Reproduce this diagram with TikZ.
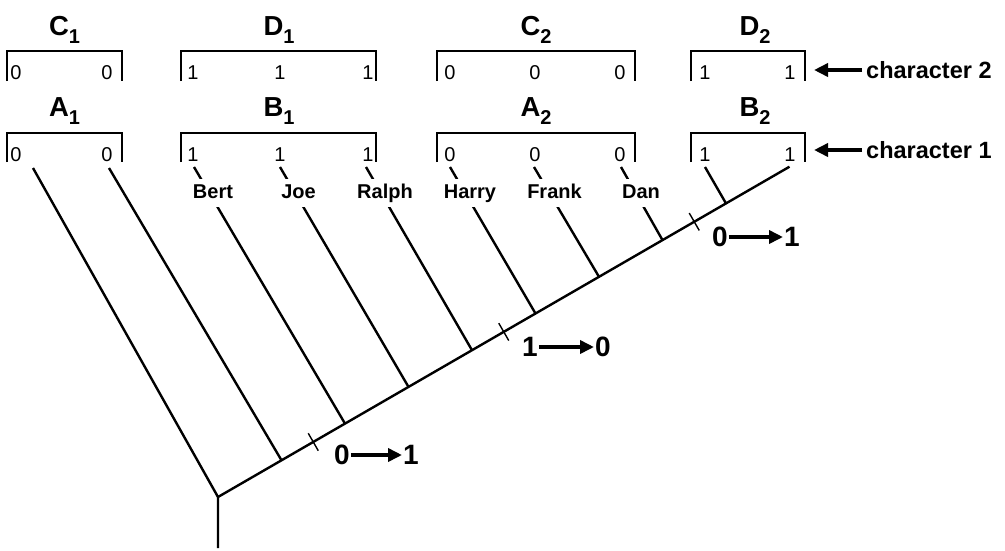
\documentclass[tikz,border=0pt]{standalone}
\usepackage{fontspec}
\setmainfont{Liberation Sans}
\usetikzlibrary{calc,arrows.meta}
\newcommand\lblfont{\bfseries\fontsize{27.5}{27.5}\selectfont}
\newcommand\subfont{\bfseries\fontsize{20}{20}\selectfont}
\newcommand\digfont{\fontsize{20}{20}\selectfont}
\newcommand\namfont{\bfseries\fontsize{20}{20}\selectfont}
\newcommand\chrfont{\bfseries\fontsize{23.5}{23.5}\selectfont}
\newcommand\chgfont{\bfseries\fontsize{28}{28}\selectfont}
\newcommand\hlabel[2]{#1\raisebox{-8pt}{\subfont #2}}
\begin{document}
\begin{tikzpicture}[x=1pt,y=-1pt,
  branch/.style={line width=2.4pt},
  bracket/.style={line width=2pt},
  digit/.style={font=\digfont,inner sep=0pt},
  taxon/.style={font=\namfont,fill=white,anchor=base,inner xsep=1pt,inner ysep=4pt,text height=15pt,text depth=5pt},
  hdr/.style={font=\lblfont,anchor=base,inner sep=0pt},
  chr/.style={font=\chrfont,anchor=west,inner xsep=4pt,inner ysep=0pt},
  hdrarrow/.style={line width=4pt,-{Triangle[length=14pt,width=13pt]}},
  chg/.style={font=\chgfont,inner sep=1pt},
  chgarrow/.style={line width=4pt,-{Triangle[length=14pt,width=13pt]}},
  ticka/.style={line width=1.4pt}]
\path[use as bounding box,fill=white] (0,0) rectangle (1005,550);

% brackets
\foreach \a/\b in {7/122,181/376,437/635,691/805}{
  \draw[bracket] (\a,81) |- (\b,51) -- (\b,81);
  \draw[bracket] (\a,162) |- (\b,133) -- (\b,162);
}
% header labels
\node[hdr] (C1) at (64.5,35) {\hlabel{C}{1}};
\node[hdr] (D1) at (279,35) {\hlabel{D}{1}};
\node[hdr] (C2) at (536,35) {\hlabel{C}{2}};
\node[hdr] (D2) at (755,35) {\hlabel{D}{2}};
\node[hdr] (A1) at (64.5,116) {\hlabel{A}{1}};
\node[hdr] (B1) at (279,116) {\hlabel{B}{1}};
\node[hdr] (A2) at (536,116) {\hlabel{A}{2}};
\node[hdr] (B2) at (755,116) {\hlabel{B}{2}};

% character 2 digits
\node[digit] (c2a) at (16,73) {0};
\node[digit] (c2b) at (107,73) {0};
\node[digit] (c2c) at (193,73) {1};
\node[digit] (c2d) at (280,73) {1};
\node[digit] (c2e) at (368,73) {1};
\node[digit] (c2f) at (450,73) {0};
\node[digit] (c2g) at (535,73) {0};
\node[digit] (c2h) at (620,73) {0};
\node[digit] (c2i) at (705,73) {1};
\node[digit] (c2j) at (790,73) {1};
% character 1 digits
\node[digit] (c1a) at (16,155) {0};
\node[digit] (c1b) at (107,155) {0};
\node[digit] (c1c) at (193,155) {1};
\node[digit] (c1d) at (280,155) {1};
\node[digit] (c1e) at (368,155) {1};
\node[digit] (c1f) at (450,155) {0};
\node[digit] (c1g) at (535,155) {0};
\node[digit] (c1h) at (620,155) {0};
\node[digit] (c1i) at (705,155) {1};
\node[digit] (c1j) at (790,155) {1};

% character labels with arrows
\node[chr] (ch2) at (862,70) {character 2};
\coordinate (a2) at (814,70);
\draw[hdrarrow] (ch2) -- (a2);
\node[chr] (ch1) at (862,150) {character 1};
\coordinate (a1) at (814,150);
\draw[hdrarrow] (ch1) -- (a1);

% tree
\coordinate (R) at (218,497);
\coordinate (Bot) at (218,548);
\foreach \k in {1,...,9}{\coordinate (S\k) at ($(R)+\k*(63.5,-36.7)$);}
\coordinate (T0) at (33,168);
\coordinate (T1) at (109,168);
\coordinate (T2) at (194,167);
\coordinate (T3) at (280,167);
\coordinate (T4) at (366,167);
\coordinate (T5) at (450,167);
\coordinate (T6) at (534,167);
\coordinate (T7) at (621,167);
\coordinate (T8) at (705,167);
\draw[branch,line join=miter] (Bot) -- (R) -- (S9);
\draw[branch] (R) -- (T0);
\foreach \k in {1,...,8}{\draw[branch] (S\k) -- (T\k);}

% taxon names
\node[taxon] (bert) at (213,198) {Bert};
\node[taxon] (joe) at (298.5,198) {Joe};
\node[taxon] (ralph) at (385,198) {Ralph};
\node[taxon] (harry) at (470,198) {Harry};
\node[taxon] (frank) at (554.5,198) {Frank};
\node[taxon] (dan) at (641,198) {Dan};

% state-change ticks
\coordinate (M1) at ($(S1)!0.5!(S2)$);
\coordinate (M2) at ($(S4)!0.5!(S5)$);
\coordinate (M3) at ($(S7)!0.5!(S8)$);
\foreach \m in {M1,M2,M3}{\draw[ticka] ($(\m)+(-5,-8.7)$) -- ($(\m)+(5,8.7)$);}

% change labels
\node[chg] (z1) at (342,455) {0};
\node[chg] (o1) at (411,455) {1};
\draw[chgarrow] (z1) -- (o1);
\node[chg] (o2) at (530,347) {1};
\node[chg] (z2) at (603,347) {0};
\draw[chgarrow] (o2) -- (z2);
\node[chg] (z3) at (720,237) {0};
\node[chg] (o3) at (792,237) {1};
\draw[chgarrow] (z3) -- (o3);
\end{tikzpicture}
\end{document}
